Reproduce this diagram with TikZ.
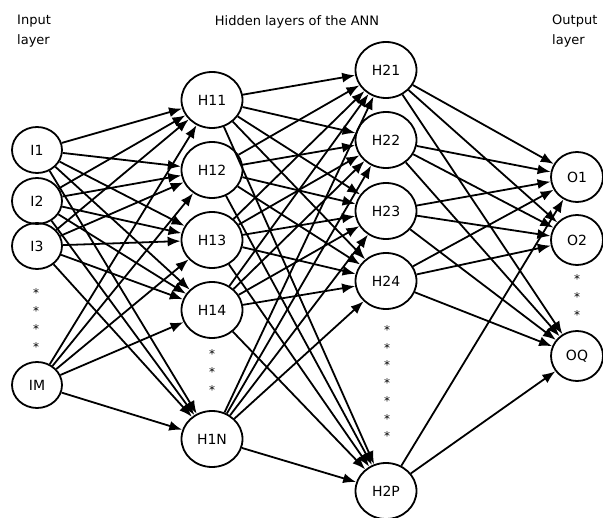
\documentclass[tikz,border=0pt]{standalone}
\usepackage{fontspec}
\setmainfont{DejaVu Sans}
\usetikzlibrary{arrows.meta}
\usetikzlibrary{shapes.geometric}

\begin{document}
\begin{tikzpicture}[x=1pt,y=-1pt]
  \tikzset{
    neuron/.style args={#1/#2}{ellipse,draw,line width=1.8pt,minimum width=#1pt,
      minimum height=#2pt,inner sep=0pt,font=\fontsize{14}{15}\selectfont},
    link/.style={line width=1.8pt,-{Latex[length=13pt,width=10pt]}},
    dots/.style={font=\fontsize{12}{12}\selectfont,inner sep=0pt},
    title/.style={font=\fontsize{13}{20}\selectfont,align=left,inner sep=0pt}
  }
    \useasboundingbox (0,0) rectangle (603,518);

    %TITLES
    \node[title,anchor=north west] (tin) at (17,15) {Input\\layer};
    \node[title,anchor=north] (thid) at (297,15) {Hidden layers of the ANN};
    \node[title,anchor=north west] (tout) at (552,15) {Output\\layer};

    %INPUT LAYER
    \node[neuron=50/46] (I1) at (37,150) {I1};
    \node[neuron=50/46] (I2) at (37,201) {I2};
    \node[neuron=50/46] (I3) at (37,246) {I3};
    \node[neuron=50/46] (IM) at (37,385) {IM};

    %HIDDEN LAYER 1
    \node[neuron=61/56] (H11) at (212,100) {H11};
    \node[neuron=61/56] (H12) at (212,170) {H12};
    \node[neuron=61/56] (H13) at (212,240) {H13};
    \node[neuron=61/56] (H14) at (212,310) {H14};
    \node[neuron=61/56] (H1N) at (212,439) {H1N};

    %HIDDEN LAYER 2
    \node[neuron=61/56] (H21) at (386,70) {H21};
    \node[neuron=61/56] (H22) at (386,140) {H22};
    \node[neuron=61/56] (H23) at (386,211) {H23};
    \node[neuron=61/56] (H24) at (386,281) {H24};
    \node[neuron=61/56] (H2P) at (386,491) {H2P};

    %OUTPUT LAYER
    \node[neuron=52/50] (O1) at (577,177) {O1};
    \node[neuron=52/50] (O2) at (577,240) {O2};
    \node[neuron=52/50] (OQ) at (577,356) {OQ};

    %SKIPPED NEURONS
    \foreach \y [count=\n] in {293,311,329,347} {
      \node[dots] (si\n) at (36,\y) {*};
    }
    \foreach \y [count=\n] in {354,372,390} {
      \node[dots] (sa\n) at (212,\y) {*};
    }
    \foreach \y [count=\n] in {330,348,365,383,401,419,436} {
      \node[dots] (sb\n) at (387,\y) {*};
    }
    \foreach \y [count=\n] in {279,297,315} {
      \node[dots] (so\n) at (577,\y) {*};
    }

    %WEIGHTS
    \foreach \a in {I1,I2,I3,IM} {
      \foreach \b in {H11,H12,H13,H14,H1N} {
        \draw[link] (\a) -- (\b) ;
      }
    }
    \foreach \a in {H11,H12,H13,H14,H1N} {
      \foreach \b in {H21,H22,H23,H24,H2P} {
        \draw[link] (\a) -- (\b) ;
      }
    }
    \foreach \a in {H21,H22,H23,H24} {
      \foreach \b in {O1,O2,OQ} {
        \draw[link] (\a) -- (\b) ;
      }
    }
    \draw[link] (H2P) -- (O1) ;
    \draw[link] (H2P) -- (OQ) ;
  \end{tikzpicture}
\end{document}
